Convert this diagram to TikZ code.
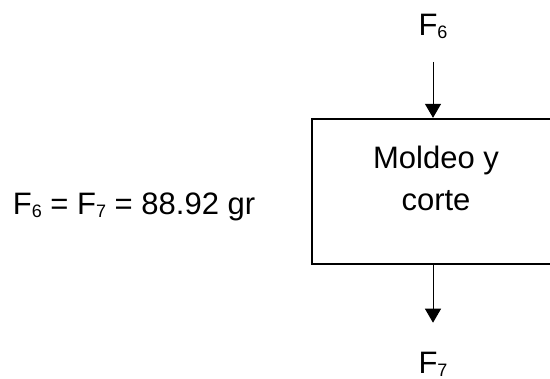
\documentclass[tikz,border=0pt]{standalone}
\usepackage{fontspec}
\setmainfont{Liberation Sans}
\usetikzlibrary{arrows.meta}
\newcommand{\subidx}[1]{\raisebox{-1.5pt}{\fontsize{9}{9}\selectfont #1}}

\begin{document}
\begin{tikzpicture}[x=0.5pt, y=0.5pt, >={Triangle[length=7pt, width=8pt]},
    every node/.style={font=\fontsize{15.5}{21.35}\selectfont, inner sep=0pt},
    flujo/.style={->, line width=0.5pt},
    proceso/.style={draw, line width=1.15pt, minimum width=121pt, minimum height=72.5pt}]
    % marco de la figura (la caja queda cortada a la derecha)
    \path[use as bounding box, clip] (0,0) rectangle (550,379);

    % balance
    \node[anchor=base west] (balance) at (12.5,164) {F\subidx{6} = F\subidx{7} = 88.92 gr};

    % caja de proceso
    \node[proceso] (caja) at (433,187.5) {};
    \node[align=center, anchor=base] (moldeo) at (436,168) {Moldeo y\\corte};

    % corrientes
    \node[anchor=base] (f6) at (433,343) {F\subidx{6}};
    \node[anchor=base] (f7) at (433,5) {F\subidx{7}};
    \coordinate (entra) at (433,317);
    \coordinate (sale) at (433,56.3);
    \draw[flujo] (entra) -- (caja.north);
    \draw[flujo] (caja.south) -- (sale);
\end{tikzpicture}
\end{document}
